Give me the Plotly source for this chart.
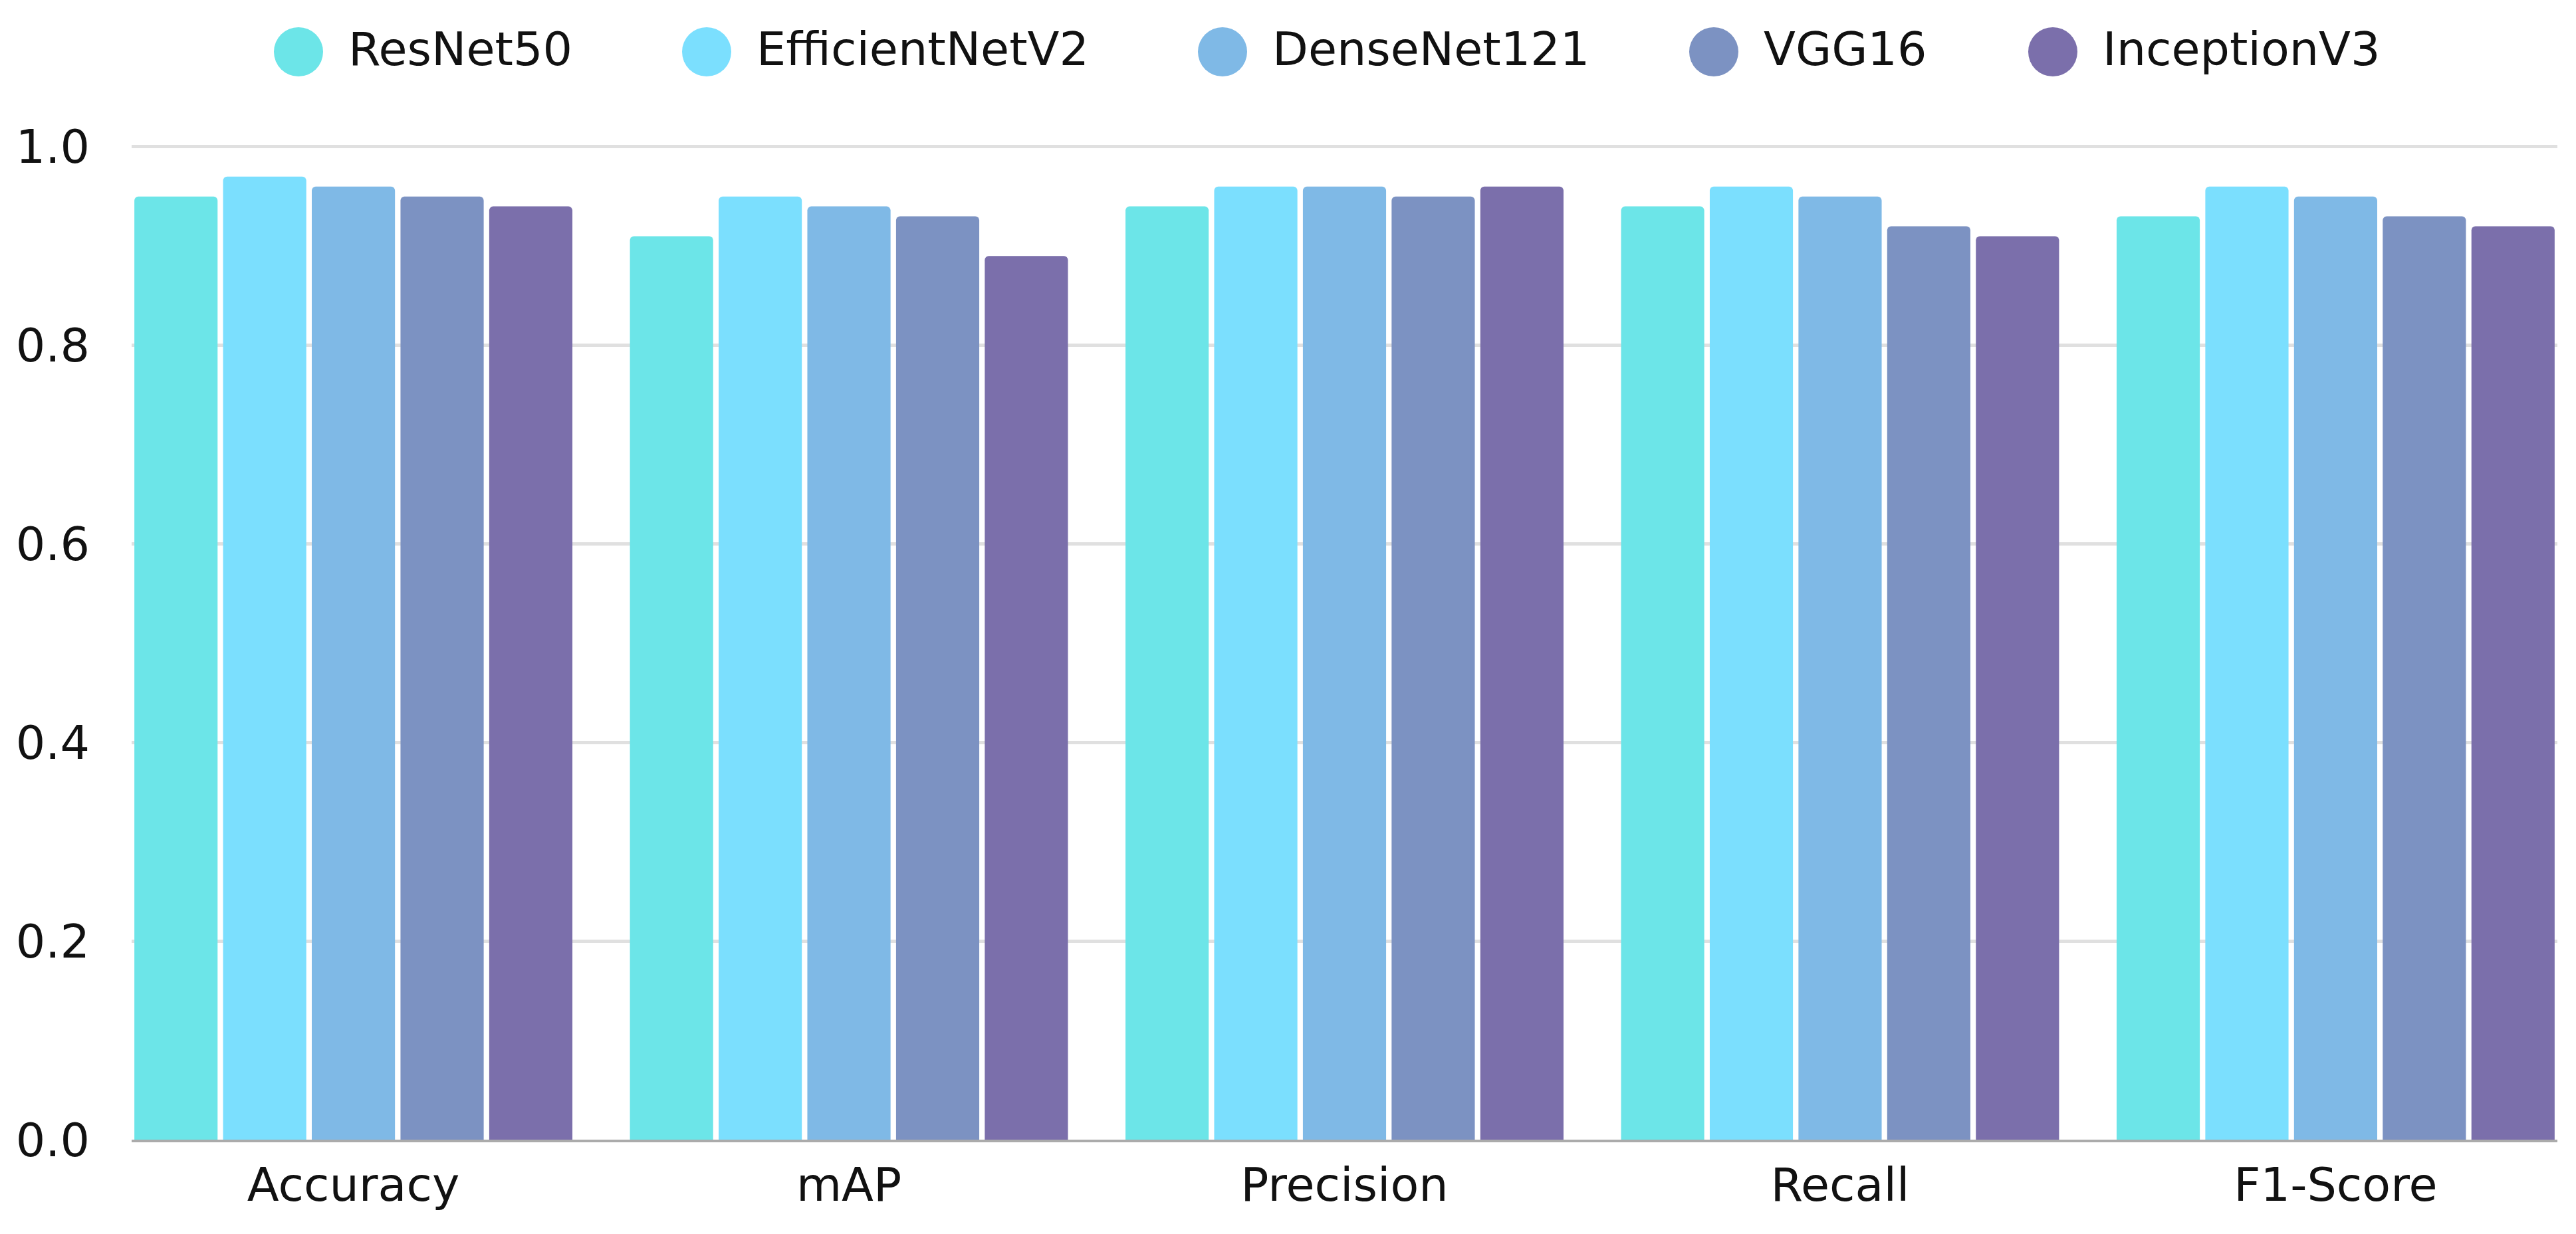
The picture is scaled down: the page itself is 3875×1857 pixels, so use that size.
import plotly.graph_objects as go

categories = ["Accuracy", "mAP", "Precision", "Recall", "F1-Score"]
models = ["ResNet50", "EfficientNetV2", "DenseNet121", "VGG16", "InceptionV3"]
resnet50 = [0.95, 0.91, 0.94, 0.94, 0.93]
efficientnetv2 = [0.97, 0.95, 0.96, 0.96, 0.96]
densenet121 = [0.96, 0.94, 0.96, 0.95, 0.95]
vgg16 = [0.95, 0.93, 0.95, 0.92, 0.93]
inceptionv3 = [0.94, 0.89, 0.96, 0.91, 0.92]
series = [resnet50, efficientnetv2, densenet121, vgg16, inceptionv3]
colors = ["#6CE5E8", "#7BDFFE", "#7FB9E6", "#7C92C2", "#7B6FAB"]
y_ticks = [0.0, 0.2, 0.4, 0.6, 0.8, 1.0]
y_tick_labels = ["0.0", "0.2", "0.4", "0.6", "0.8", "1.0"]

W, H = 3875, 1857
ML, MR, MT, MB = 198, 28, 215, 142
PW = W - ML - MR
PH = H - MT - MB
FONT = "DejaVu Sans"
FS = 70

fig = go.Figure()
for name, vals, col in zip(models, series, colors):
    fig.add_trace(go.Bar(x=categories, y=vals, name=name, marker=dict(color=col, line=dict(width=0)),
                         showlegend=False))

# custom legend (circles + text) in the top margin
legend_cx = [449, 1063, 1839, 2578, 3088]
legend_cy = 78
r = 37
shapes = []
annotations = []
for name, col, cx in zip(models, colors, legend_cx):
    x0 = (cx - r - ML) / PW
    x1 = (cx + r - ML) / PW
    y0 = (H - MB - (legend_cy + r)) / PH
    y1 = (H - MB - (legend_cy - r)) / PH
    shapes.append(dict(type="circle", xref="paper", yref="paper", x0=x0, x1=x1, y0=y0, y1=y1,
                       fillcolor=col, line=dict(width=0)))
    annotations.append(dict(text=name, xref="paper", yref="paper", x=(cx + 73 - ML) / PW,
                            y=(H - MB - legend_cy + 4) / PH, xanchor="left", yanchor="middle",
                            showarrow=False, font=dict(family=FONT, size=FS, color="#111111")))

fig.update_layout(
    width=W, height=H,
    margin=dict(l=ML, r=MR, t=MT, b=MB, pad=0),
    paper_bgcolor="white", plot_bgcolor="white",
    barmode="group", bargap=0.105, bargroupgap=0.062, barcornerradius=6,
    font=dict(family=FONT, size=FS, color="#111111"),
    shapes=shapes, annotations=annotations,
    showlegend=False,
    xaxis=dict(range=[-0.4475, 4.4475], showgrid=False, showline=True, linecolor="#ABABAB", linewidth=4,
               ticks="", tickfont=dict(family=FONT, size=FS, color="#111111"), ticklabelstandoff=4,
               zeroline=False),
    yaxis=dict(range=[0, 1.004], tickvals=y_ticks, ticktext=y_tick_labels, showgrid=True,
               gridcolor="#E0E0E0", gridwidth=5, zeroline=False, showline=False, ticks="",
               tickfont=dict(family=FONT, size=FS, color="#111111"), ticklabelstandoff=62),
)

fig.write_html("out.html")
